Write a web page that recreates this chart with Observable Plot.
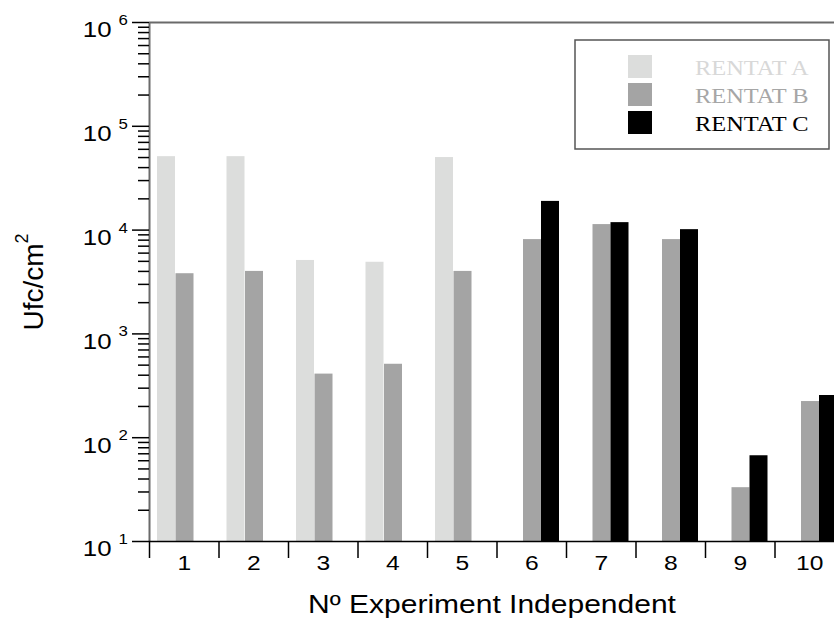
<!DOCTYPE html>
<html><head><meta charset="utf-8">
<script src="https://cdn.jsdelivr.net/npm/d3@7"></script>
<script src="https://cdn.jsdelivr.net/npm/@observablehq/plot@0.6"></script>
<style>html,body{margin:0;padding:0;background:#fff;overflow:hidden}</style>
</head><body><div id="chart"></div>
<script>
const categories = [1, 2, 3, 4, 5, 6, 7, 8, 9, 10];
const seriesNames = ["RENTAT A", "RENTAT B", "RENTAT C"];
const rentatA = [51000, 51000, 5100, 4900, 50000, null, null, null, null, null];
const rentatB = [3800, 4000, 410, 510, 4000, 8100, 11300, 8100, 33, 223];
const rentatC = [null, null, null, null, null, 18900, 11800, 10100, 67, 255];
const yExponents = [1, 2, 3, 4, 5, 6];
const xTitle = "Nº Experiment Independent";
const yTitle = "Ufc/cm";
const yTitleSup = "2";

const barColors = ["#dcdddc", "#a4a4a4", "#000000"];
const textColors = ["#d8d8d8", "#a6a6a6", "#000000"];
const insets = [[8, 43.5], [26.5, 25], [44.5, 7]];
const font = "'Liberation Sans', Arial, sans-serif";

const allSeries = [rentatA, rentatB, rentatC];
const rows = [];
allSeries.forEach((vals, s) => vals.forEach((v, i) => {
  if (v != null) rows.push({cat: categories[i], series: seriesNames[s], value: v});
}));

const majorTicks = yExponents.map(e => 10 ** e);
const minorTicks = [];
for (const e of yExponents.slice(0, -1)) for (let m = 2; m <= 9; m++) minorTicks.push(m * 10 ** e);
const boundaries = categories.map(c => c - 0.5);

const svg = Plot.plot({
  width: 834, height: 627,
  marginLeft: 149, marginRight: 0, marginTop: 22, marginBottom: 86,
  style: {fontFamily: font, color: "#000", background: "#fff"},
  x: {type: "linear", domain: [0.5, 10.5], range: [149, 844], axis: null},
  y: {type: "log", domain: [10, 1e6], axis: null},
  marks: [
    ...seriesNames.map((name, s) => Plot.rect(rows.filter(r => r.series === name), {
      x1: d => d.cat - 0.5, x2: d => d.cat + 0.5, y1: 10, y2: "value",
      fill: barColors[s], insetLeft: insets[s][0], insetRight: insets[s][1]
    })),
    Plot.ruleY([1e6], {stroke: "#6a6a6a", strokeWidth: 2}),
    Plot.ruleX([0.5], {stroke: "#6a6a6a", strokeWidth: 2}),
    Plot.ruleY([10], {stroke: "#000", strokeWidth: 1.5}),
    Plot.axisY({ticks: majorTicks, tickSize: 17, tickFormat: () => "", label: null, stroke: "#000", strokeWidth: 1.5}),
    Plot.axisY({ticks: minorTicks, tickSize: 11, tickFormat: () => "", label: null, stroke: "#000", strokeWidth: 1.5}),
    Plot.axisX({ticks: boundaries, tickSize: 17, tickFormat: () => "", label: null, stroke: "#000", strokeWidth: 1.5}),
    Plot.text(majorTicks, {y: d => d, text: () => "10", frameAnchor: "left", textAnchor: "end", dx: -38, dy: 8, fontSize: 21.5, fill: "#000"}),
    Plot.text(yExponents, {y: e => 10 ** e, text: e => String(e), frameAnchor: "left", textAnchor: "start", dx: -31, dy: -2, fontSize: 14, fill: "#000"}),
    Plot.text(categories, {x: d => d, text: d => String(d), frameAnchor: "bottom", dy: 28, fontSize: 20.5, fill: "#000"}),
    Plot.text([xTitle], {frameAnchor: "bottom", dy: 71, fontSize: 25, fill: "#000"})
  ]
});
document.getElementById("chart").appendChild(svg);

// horizontal widening of glyphs, as in the reference, keeping each text's anchor point
function widen(t, k) {
  const L = t.getComputedTextLength();
  if (!(L > 0)) return;
  const anchor = getComputedStyle(t).textAnchor;
  const b0 = t.getBBox();
  t.setAttribute("textLength", L * k);
  t.setAttribute("lengthAdjust", "spacingAndGlyphs");
  const b1 = t.getBBox();
  let shift = 0;
  if (anchor === "end") shift = (b0.x + b0.width) - (b1.x + b1.width);
  else if (anchor === "middle") shift = (b0.x + b0.width / 2) - (b1.x + b1.width / 2);
  else shift = b0.x - b1.x;
  if (Math.abs(shift) > 0.01) t.setAttribute("dx", shift);
}
svg.querySelectorAll("text").forEach(t => widen(t, 1.2));

const root = d3.select(svg);
// y title
const yt = root.append("text")
  .attr("transform", "translate(43,282) rotate(-90)")
  .attr("text-anchor", "middle")
  .attr("font-family", font).attr("font-size", 28).attr("fill", "#000");
yt.append("tspan").text(yTitle);
yt.append("tspan").attr("dy", -15).attr("font-size", 18).text(yTitleSup);

// legend
const lg = root.append("g");
lg.append("rect").attr("x", 575).attr("y", 40).attr("width", 254).attr("height", 109)
  .attr("fill", "#fff").attr("stroke", "#555").attr("stroke-width", 1.5);
seriesNames.forEach((name, s) => {
  lg.append("rect").attr("x", 628).attr("y", 55 + s * 28).attr("width", 24).attr("height", 23).attr("fill", barColors[s]);
  const t = lg.append("text").attr("x", 695).attr("y", 75 + s * 28)
    .attr("text-anchor", "start")
    .attr("font-family", "'Liberation Serif', 'Times New Roman', serif").attr("font-size", 22)
    .attr("fill", textColors[s]).text(name);
  widen(t.node(), 1.11);
});
</script>
</body></html>
